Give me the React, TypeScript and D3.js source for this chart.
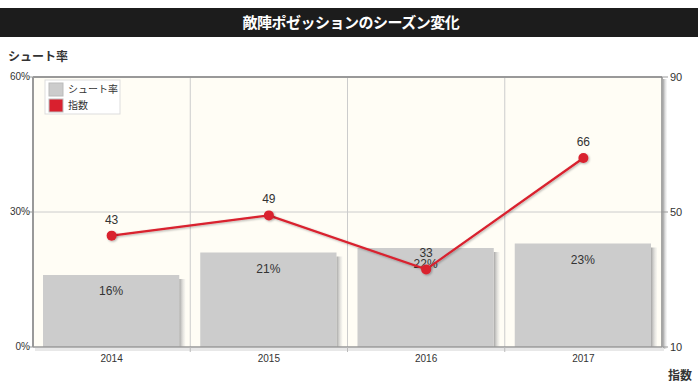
import React from "react";
import * as d3 from "d3";

const categories = ["2014", "2015", "2016", "2017"];
const shotRate = [16, 21, 22, 23];
const indexValues = [43, 49, 33, 66];
const leftTicks = [0, 30, 60];
const rightTicks = [10, 50, 90];

const W = 698;
const H = 389;
const L = 33;
const R = 662;
const T = 77;
const B = 347;
const FONT = "'Noto Sans CJK JP', 'DejaVu Sans', sans-serif";
const LAT = "'Liberation Sans', Arial, sans-serif";

export default function App() {
  const x = d3.scaleBand<string>().domain(categories).range([L, R]).paddingInner(0).paddingOuter(0);
  const yL = d3.scaleLinear().domain([0, 60]).range([B, T]);
  const yR = d3.scaleLinear().domain([10, 90]).range([B, T]);
  const bw = x.bandwidth();
  const barPad = 10;
  const line = d3
    .line<number>()
    .x((_, i) => x(categories[i])! + bw / 2)
    .y((d) => yR(d));

  return (
    <svg
      width={W}
      height={H}
      style={{ position: "absolute", left: 0, top: 0, background: "#fff" }}
      fontFamily={FONT}
    >
      <defs>
        <linearGradient id="shadow" x1="0" x2="1" y1="0" y2="0">
          <stop offset="0" stopColor="#999" stopOpacity="0.9" />
          <stop offset="1" stopColor="#ddd" stopOpacity="0.2" />
        </linearGradient>
        <filter id="ds" x="-50%" y="-50%" width="200%" height="200%">
          <feDropShadow dx="1" dy="1" stdDeviation="1" floodColor="#000" floodOpacity="0.3" />
        </filter>
      </defs>
      {/* title bar */}
      <rect x={0} y={8} width={W} height={29} fill="#1c1c1c" />
      <text x={W / 2 + 2} y={28} textAnchor="middle" fill="#fff" fontSize={15} fontWeight="bold" letterSpacing={-0.5}>
        敵陣ポゼッションのシーズン変化
      </text>
      <text x={8} y={61} fill="#333" fontSize={12} fontWeight="bold">
        シュート率
      </text>
      <text x={668} y={380} fill="#333" fontSize={12} fontWeight="bold">
        指数
      </text>

      {/* plot background */}
      <rect x={L} y={T} width={R - L} height={B - T} fill="#fffdf5" />
      {/* grid */}
      {categories.slice(1).map((c) => (
        <line key={c} x1={x(c)!} x2={x(c)!} y1={T} y2={B} stroke="#ccc" strokeWidth={1} />
      ))}
      {leftTicks.slice(1, -1).map((t) => (
        <line key={t} x1={L} x2={R} y1={yL(t)} y2={yL(t)} stroke="#ccc" strokeWidth={1} />
      ))}

      {/* bars */}
      {shotRate.map((v, i) => {
        const bx = x(categories[i])! + barPad;
        const w = bw - barPad * 2 - 1;
        return (
          <g key={i}>
            <rect x={bx + w} y={yL(v) + 4} width={6} height={B - yL(v) - 4} fill="url(#shadow)" />
            <rect x={bx} y={yL(v)} width={w} height={B - yL(v)} fill="#cccccc" />
            <text x={bx + w / 2} y={yL(v) + 20} textAnchor="middle" fontSize={12} fill="#333" fontFamily={LAT}>
              {v}%
            </text>
          </g>
        );
      })}

      {/* frame */}
      <line x1={L} x2={R} y1={T} y2={T} stroke="#999" strokeWidth={2} />
      <line x1={L} x2={L} y1={T} y2={B} stroke="#999" strokeWidth={2} />
      <line x1={R} x2={R} y1={T} y2={B} stroke="#888" strokeWidth={1.5} />
      <rect x={R + 1} y={T + 2} width={4} height={B - T} fill="url(#shadow)" />
      <line x1={L} x2={R} y1={B} y2={B} stroke="#999" strokeWidth={1.5} />
      <rect x={L + 2} y={B + 1} width={R - L} height={3} fill="#e8e8e8" />

      {/* left axis */}
      {leftTicks.map((t) => (
        <g key={t}>
          <line x1={L - 4} x2={L} y1={yL(t)} y2={yL(t)} stroke="#999" />
          <text x={L - 3} y={yL(t) + 3} textAnchor="end" fontSize={10} fill="#333" fontFamily={LAT}>
            {t}%
          </text>
        </g>
      ))}
      {/* right axis */}
      {rightTicks.map((t) => (
        <g key={t}>
          <line x1={R} x2={R + 6} y1={yR(t)} y2={yR(t)} stroke="#999" />
          <text x={R + 8} y={yR(t) + 4} fontSize={11} fill="#333" fontFamily={LAT}>
            {t}
          </text>
        </g>
      ))}
      {/* x axis */}
      {categories.map((c, i) => (
        <g key={c}>
          {i > 0 && <line x1={x(c)!} x2={x(c)!} y1={B} y2={B + 5} stroke="#bbb" />}
          <text x={x(c)! + bw / 2} y={362} textAnchor="middle" fontSize={10} fill="#333" fontFamily={LAT}>
            {c}
          </text>
        </g>
      ))}

      {/* line */}
      <path d={line(indexValues)!} fill="none" stroke="#d9202e" strokeWidth={2.2} filter="url(#ds)" />
      {indexValues.map((v, i) => (
        <g key={i}>
          <circle cx={x(categories[i])! + bw / 2} cy={yR(v)} r={5} fill="#d9202e" filter="url(#ds)" />
          <text x={x(categories[i])! + bw / 2} y={yR(v) - 12} textAnchor="middle" fontSize={12} fill="#333" fontFamily={LAT}>
            {v}
          </text>
        </g>
      ))}

      {/* legend */}
      <rect x={45} y={80} width={75} height={34} fill="#fff" stroke="#ddd" />
      <rect x={49} y={83} width={14} height={13} fill="#ccc" stroke="#bbb" />
      <text x={68} y={93} fontSize={10} fill="#333">シュート率</text>
      <rect x={49} y={99} width={14} height={13} fill="#d9202e" stroke="#bbb" />
      <text x={68} y={109} fontSize={10} fill="#333">指数</text>
    </svg>
  );
}
